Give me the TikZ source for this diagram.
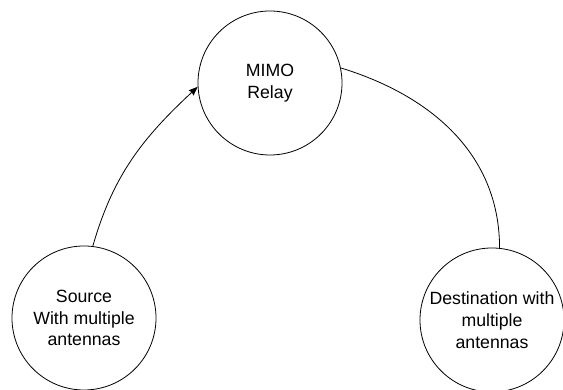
\documentclass[tikz,border=0pt]{standalone}
\usepackage{fontspec}
\setmainfont{Liberation Sans}
\usetikzlibrary{arrows.meta}
\begin{document}
\begin{tikzpicture}
	[	x=1pt,y=1pt,
	station/.style={circle,draw=black,line width=0.8pt,minimum size=144pt,inner sep=0pt,
		align=center,font=\fontsize{17.7pt}{21.7pt}\selectfont},
	link/.style={line width=0.8pt}
	]
	\useasboundingbox (0,0) rectangle (563,390);

	\node[station] (relay) at (270,307){MIMO\\Relay};
	\node[station] (src) at (84,72){Source\\With multiple\\antennas};
	\node[station] (dst) at (492,70){Destination with\\multiple\\antennas};

	\draw[link,-{Stealth[length=9pt,width=7pt,inset=1pt]}] (src.83) to[out=74,in=223] (relay.183);
	\draw[link] (relay.12) to[out=-17,in=90] (dst.84);
\end{tikzpicture}
\end{document}
